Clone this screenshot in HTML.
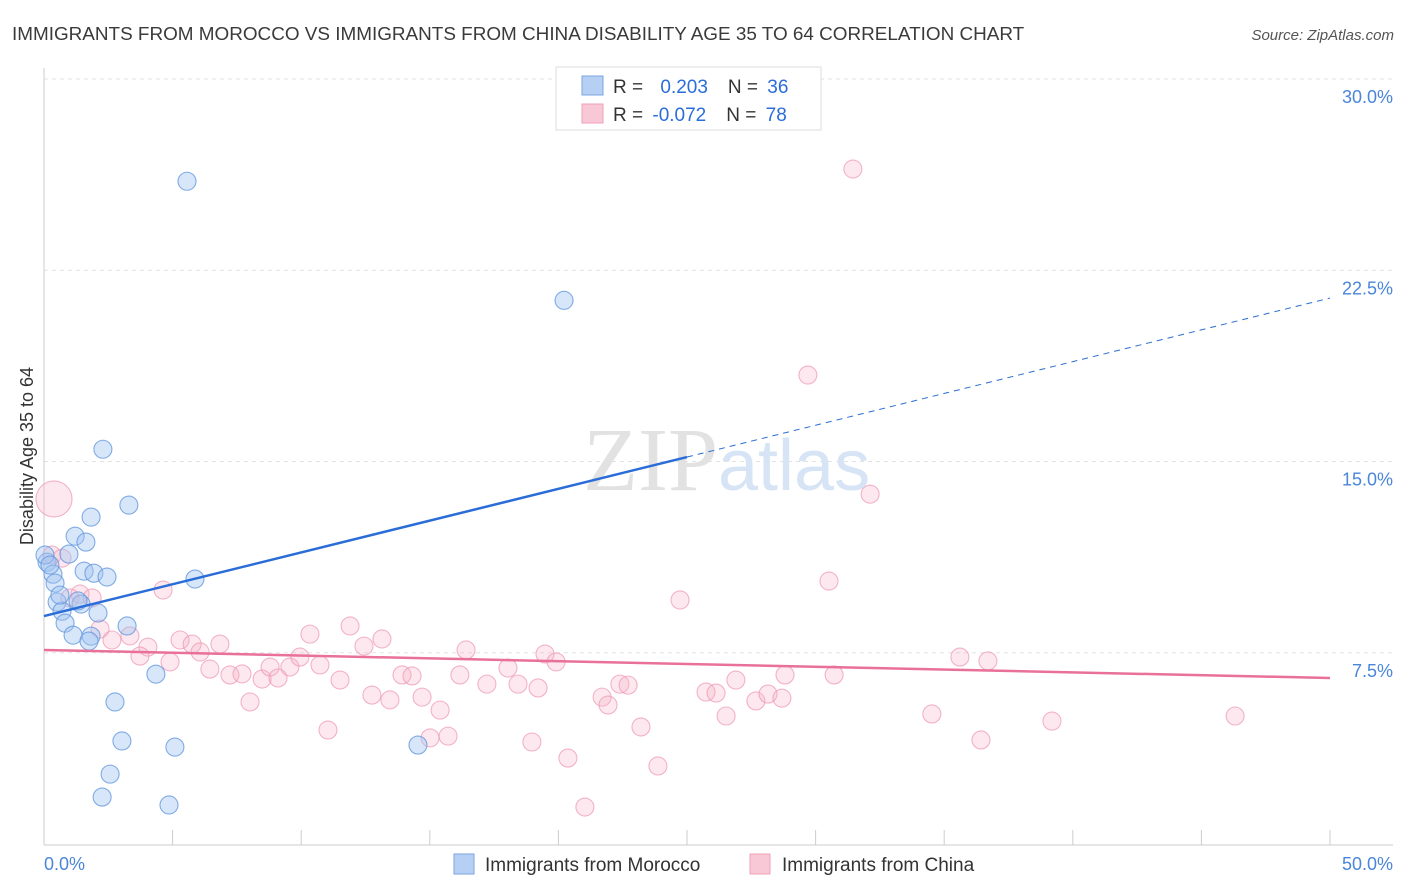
<!DOCTYPE html>
<html><head><meta charset="utf-8"><style>
body{margin:0;background:#fff;font-family:"Liberation Sans",sans-serif;}
</style></head><body>
<svg width="1406" height="892" viewBox="0 0 1406 892" style="display:block">
<text x="12" y="40" font-size="18.9" fill="#3a3a3a">IMMIGRANTS FROM MOROCCO VS IMMIGRANTS FROM CHINA DISABILITY AGE 35 TO 64 CORRELATION CHART</text>
<text x="1394" y="40" font-size="15" fill="#555" font-style="italic" text-anchor="end">Source: ZipAtlas.com</text>
<g id="grid"></g>
<g id="ticks"></g>
<line x1="44" y1="68" x2="44" y2="845" stroke="#ccc"/>
<line x1="44" y1="845" x2="1393" y2="845" stroke="#ccc"/>
<text x="718" y="490" font-size="90" font-family="Liberation Serif,serif" fill="#e2e2e2" text-anchor="end">ZIP</text>
<text x="718" y="490" font-size="72" fill="#d6e4f5">atlas</text>
<text transform="translate(33,456) rotate(-90)" font-size="18" fill="#333" text-anchor="middle">Disability Age 35 to 64</text>
<g id="pts"></g>
<g id="lines"></g>
<g id="ylabels"></g>
<text x="44" y="870" font-size="18" fill="#4a86d8">0.0%</text>
<text x="1393" y="870" font-size="18" fill="#4a86d8" text-anchor="end">50.0%</text>
<g>
<rect x="556" y="67" width="265" height="63" fill="#fff" stroke="#ddd"/>
<rect x="582" y="76" width="21" height="19" fill="#b6d0f3" stroke="#7aa6e2"/>
<rect x="582" y="104" width="21" height="19" fill="#f9c8d6" stroke="#efa0b8"/>
<text x="613" y="93" font-size="19" fill="#333">R = <tspan fill="#2a6dd9" dx="12">0.203</tspan><tspan dx="20" fill="#333">N = </tspan><tspan fill="#2a6dd9" dx="4">36</tspan></text>
<text x="613" y="121" font-size="19" fill="#333">R = <tspan fill="#2a6dd9" dx="4">-0.072</tspan><tspan dx="20" fill="#333">N = </tspan><tspan fill="#2a6dd9" dx="4">78</tspan></text>
</g>
<g>
<rect x="454" y="854" width="20" height="20" fill="#b6d0f3" stroke="#7aa6e2"/>
<text x="485" y="871" font-size="19" fill="#333">Immigrants from Morocco</text>
<rect x="750" y="854" width="20" height="20" fill="#f9c8d6" stroke="#efa0b8"/>
<text x="782" y="871" font-size="19" fill="#333">Immigrants from China</text>
</g>
</svg>
<script>
const yTicks=[7.5,15,22.5,30];
const yTickLabels=["7.5%","15.0%","22.5%","30.0%"];
const xTicks=[0,5,10,15,20,25,30,35,40,45,50];
const moroccoX=[5.56,20.22,2.29,3.30,1.83,1.21,1.63,0.97,0.12,0.35,1.56,1.94,2.45,5.87,0.43,0.51,1.44,1.32,2.10,0.70,0.82,1.13,1.83,1.75,3.23,4.35,2.76,3.03,5.09,14.54,2.57,2.26,4.86,0.04,0.23,0.62];
const moroccoY=[25.99,21.32,15.48,13.29,12.82,12.07,11.84,11.37,11.05,10.58,10.70,10.62,10.47,10.39,10.23,9.49,9.41,9.53,9.06,9.13,8.66,8.19,8.15,7.96,8.55,6.66,5.57,4.04,3.80,3.88,2.74,1.84,1.53,11.33,10.94,9.76];
const chinaX=[31.45,29.70,32.12,30.52,24.73,4.63,0.31,0.70,1.01,1.40,1.87,2.18,2.64,3.34,4.04,3.73,4.90,5.29,5.76,6.07,6.84,6.45,7.23,7.70,8.48,8.79,9.10,9.56,9.95,10.34,10.73,11.51,11.90,12.44,12.75,13.14,13.45,13.92,14.31,14.70,15.40,15.01,15.71,16.17,16.41,17.22,18.04,18.43,19.21,19.48,19.91,18.97,20.37,21.70,21.93,22.39,22.71,23.21,23.87,21.03,25.74,26.13,26.52,26.90,27.68,28.15,28.69,28.81,30.72,34.52,35.61,36.70,36.43,39.19,46.31,8.01,11.04,0.39];
const chinaY=[26.47,18.39,13.72,10.31,9.57,9.96,11.33,11.21,9.65,9.80,9.65,8.43,8.00,8.16,7.72,7.37,7.14,8.00,7.84,7.53,7.84,6.86,6.63,6.67,6.47,6.94,6.51,6.94,7.33,8.23,7.02,6.43,8.55,7.76,5.84,8.04,5.65,6.63,6.59,5.76,5.25,4.16,4.23,6.63,7.61,6.27,6.90,6.27,6.12,7.45,7.14,4.00,3.37,5.76,5.45,6.27,6.23,4.59,3.06,1.45,5.96,5.92,5.02,6.43,5.61,5.88,5.72,6.63,6.63,5.10,7.33,7.18,4.08,4.82,5.02,5.57,4.47,13.53];
const chinaR=[];for(let i=0;i<chinaX.length;i++)chinaR.push(i===chinaX.length-1?18:9);
const moroccoTrend=[8.94,21.41];
const chinaTrend=[7.61,6.51];
const NS="http://www.w3.org/2000/svg";
const sx=v=>44+v/50*1286;
const sy=v=>844-v/30*765;
function mk(t,a,p){const e=document.createElementNS(NS,t);for(const k in a)e.setAttribute(k,a[k]);p.appendChild(e);return e;}
const grid=document.getElementById('grid'),ticks=document.getElementById('ticks'),yl=document.getElementById('ylabels');
yTicks.forEach((v,i)=>{
 const l=mk('line',{x1:44,x2:1393,y1:sy(v),y2:sy(v),stroke:'#e2e2e2','stroke-dasharray':'4,4'},grid);
 
 
 const t=mk('text',{x:1393,y:sy(v)+24,'font-size':18,fill:'#4a86d8','text-anchor':'end'},yl);
 t.textContent=yTickLabels[i];
 
 
});
xTicks.forEach(v=>{
 const l=mk('line',{x1:sx(v),x2:sx(v),y1:830,y2:845,stroke:'#ccc'},ticks);
 
 
});
const pts=document.getElementById('pts');
chinaX.forEach((x,i)=>{
 const c=mk('circle',{cx:sx(x),cy:sy(chinaY[i]),r:chinaR[i],fill:'rgba(246,178,200,0.3)',stroke:'rgba(238,150,178,0.7)','stroke-width':1.1},pts);
 
 
});
moroccoX.forEach((x,i)=>{
 const c=mk('circle',{cx:sx(x),cy:sy(moroccoY[i]),r:9,fill:'rgba(160,196,240,0.42)',stroke:'rgba(100,152,222,0.8)','stroke-width':1.1},pts);
 
 
});
const lines=document.getElementById('lines');
const bAt=x=>moroccoTrend[0]+(moroccoTrend[1]-moroccoTrend[0])*x/50;
let l1=mk('line',{x1:sx(0),y1:sy(bAt(0)),x2:sx(25),y2:sy(bAt(25)),stroke:'#2a6dd9','stroke-width':2.5},lines);


let l2=mk('line',{x1:sx(25),y1:sy(bAt(25)),x2:sx(50),y2:sy(bAt(50)),stroke:'#2a6dd9','stroke-width':1,'stroke-dasharray':'6,5'},lines);


let l3=mk('line',{x1:sx(0),y1:sy(chinaTrend[0]),x2:sx(50),y2:sy(chinaTrend[1]),stroke:'#e8709a','stroke-width':2.5},lines);


</script>
</body></html>
